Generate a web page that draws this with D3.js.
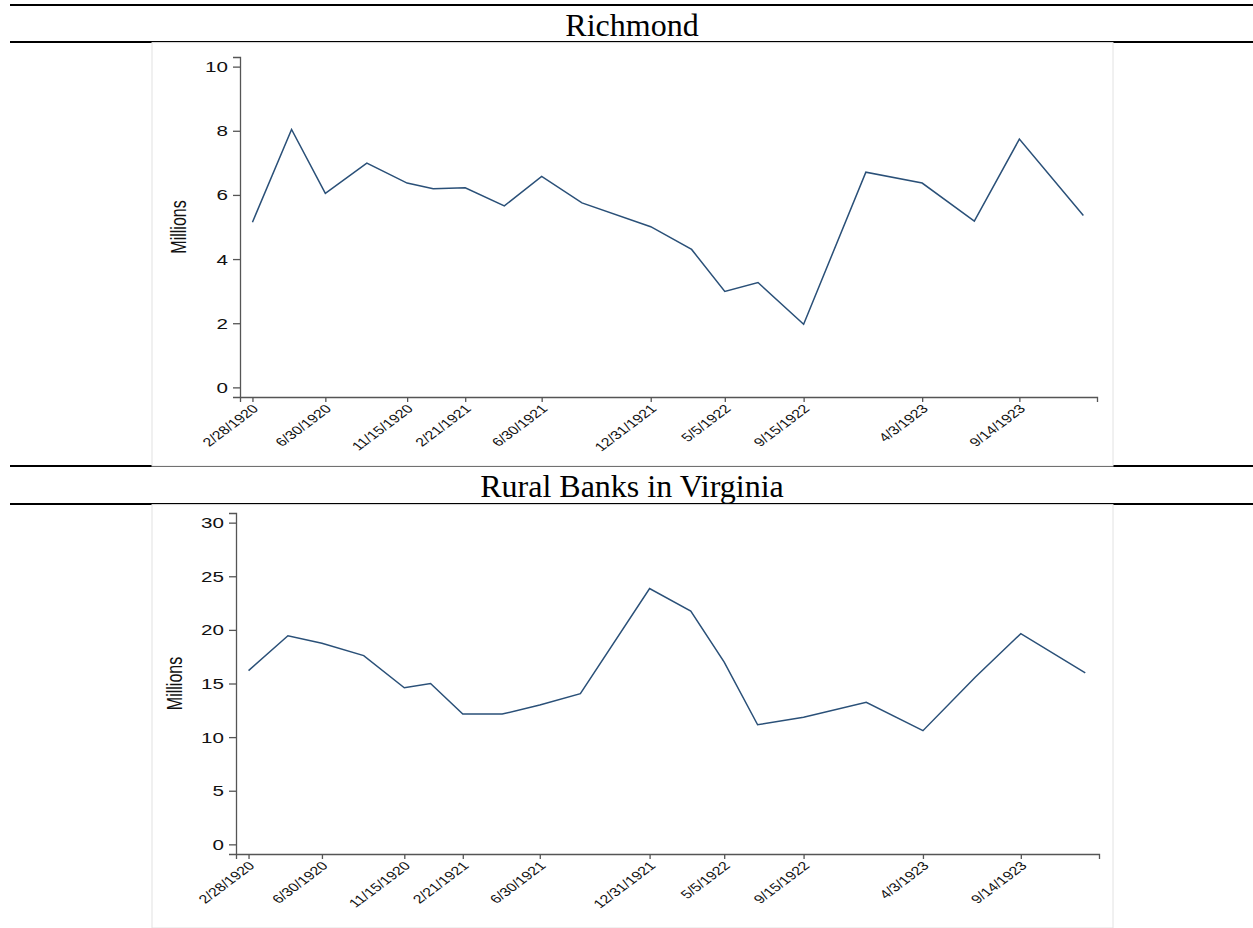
<!DOCTYPE html>
<html>
<head>
<meta charset="utf-8">
<script src="https://cdn.jsdelivr.net/npm/d3@7"></script>
<style>
  body { margin: 0; background: #fff; }
  svg { display: block; }
</style>
</head>
<body>
<div id="chart"></div>
<script>
(function(d3) {
    'use strict'

    // call report dates (both series share them)
    var callDates = ['2/28/1920', '5/4/1920', '6/30/1920', '9/8/1920', '11/15/1920', '12/29/1920',
        '2/21/1921', '4/28/1921', '6/30/1921', '9/6/1921', '12/31/1921',
        '3/10/1922', '5/5/1922', '6/30/1922', '9/15/1922', '12/29/1922',
        '4/3/1923', '6/30/1923', '9/14/1923', '12/31/1923'];

    // millions
    var richmond = [5.15, 8.04, 6.05, 6.99, 6.37, 6.19, 6.22, 5.66, 6.58, 5.75, 5.01,
        4.30, 2.99, 3.27, 1.97, 6.71, 6.37, 5.18, 7.74, 5.36];
    var ruralVirginia = [16.2, 19.45, 18.75, 17.6, 14.6, 15.0, 12.15, 12.15, 13.0, 14.05, 23.85,
        21.75, 17.0, 11.15, 11.85, 13.25, 10.6, 15.6, 19.65, 16.0];

    var xTickLabels = ['2/28/1920', '6/30/1920', '11/15/1920', '2/21/1921', '6/30/1921',
        '12/31/1921', '5/5/1922', '9/15/1922', '4/3/1923', '9/14/1923'];
    var richmondTicks = [0, 2, 4, 6, 8, 10];
    var ruralTicks = [0, 5, 10, 15, 20, 25, 30];

    var width = 1253;
    var height = 928;
    var sx = 1.33; // the graphs are stretched sideways in the source document
    var lineColor = '#2a5078';
    var axisColor = '#555';

    var parse = d3.timeParse('%m/%d/%Y');
    var fmt = d3.timeFormat('%-m/%-d/%Y');

    var svg = d3.select('#chart')
        .append('svg')
        .attr('width', width)
        .attr('height', height);

    // horizontal table rules
    [5, 42, 466, 504].forEach(function(y) {
        svg.append('line')
            .attr('x1', 10).attr('x2', width)
            .attr('y1', y).attr('y2', y)
            .attr('stroke', '#000')
            .attr('stroke-width', 2);
    });

    var panels = [
        { title: 'Richmond', titleY: 36, values: richmond, ticks: richmondTicks,
          yDomain: [-0.3, 10.3], frame: [152, 42.6, 1113, 466],
          xRange: [240, 1097], yRange: [397, 57], labelX: 179 },
        { title: 'Rural Banks in Virginia', titleY: 497, values: ruralVirginia, ticks: ruralTicks,
          yDomain: [-0.9, 30.9], frame: [152, 504.6, 1113, 928],
          xRange: [236, 1099], yRange: [854, 513], labelX: 175 }
    ];

    var xDomain = [new Date(1920, 1, 7), new Date(1924, 0, 23)];

    panels.forEach(function(p) {
        svg.append('text')
            .attr('x', 632)
            .attr('y', p.titleY)
            .attr('text-anchor', 'middle')
            .style('font-family', '"Liberation Serif", "Times New Roman", serif')
            .style('font-size', '32px')
            .text(p.title);

        // embedded graph image area
        svg.append('rect')
            .attr('x', p.frame[0])
            .attr('y', p.frame[1])
            .attr('width', p.frame[2] - p.frame[0])
            .attr('height', p.frame[3] - p.frame[1])
            .attr('fill', '#fff')
            .attr('stroke', '#e2e2e2')
            .attr('stroke-width', 1);

        var x = d3.scaleTime().domain(xDomain).range(p.xRange);
        var y = d3.scaleLinear().domain(p.yDomain).range(p.yRange);

        var g = svg.append('g');

        // y axis
        var yAxis = g.append('g')
            .attr('transform', 'translate(' + p.xRange[0] + ',0)')
            .call(d3.axisLeft(y).tickValues(p.ticks).tickSize(7).tickPadding(5).tickFormat(d3.format('d')));
        yAxis.selectAll('text')
            .attr('x', -12 / sx)
            .attr('transform', 'scale(' + sx + ',1)')
            .style('font-family', '"Liberation Sans", Arial, sans-serif')
            .style('font-size', '15.5px')
            .attr('fill', '#111');

        // x axis
        var xAxis = g.append('g')
            .attr('transform', 'translate(0,' + p.yRange[0] + ')')
            .call(d3.axisBottom(x).tickValues(xTickLabels.map(parse)).tickSize(5).tickFormat(fmt));
        xAxis.selectAll('text')
            .attr('x', 0)
            .attr('y', 0)
            .attr('dy', '0.3em')
            .attr('text-anchor', 'end')
            .attr('transform', 'translate(3,10) scale(' + sx + ',1) rotate(-45)')
            .style('font-family', '"Liberation Sans", Arial, sans-serif')
            .style('font-size', '12px')
            .attr('fill', '#111');

        g.selectAll('.domain, .tick line')
            .attr('stroke', axisColor)
            .attr('stroke-width', 1.3);

        // axis title
        var midY = (p.yRange[0] + p.yRange[1]) / 2;
        g.append('text')
            .attr('transform', 'translate(' + p.labelX + ',' + midY + ') scale(' + sx + ',1) rotate(-90)')
            .attr('text-anchor', 'middle')
            .attr('dy', '0.35em')
            .style('font-family', '"Liberation Sans", Arial, sans-serif')
            .style('font-size', '16px')
            .attr('fill', '#111')
            .text('Millions');

        var line = d3.line()
            .x(function(d, i) { return x(parse(callDates[i])); })
            .y(function(d) { return y(d); });

        g.append('path')
            .datum(p.values)
            .attr('d', line)
            .attr('fill', 'none')
            .attr('stroke', lineColor)
            .attr('stroke-width', 1.5)
            .attr('stroke-linejoin', 'miter');
    });

})(window.d3);
</script>
</body>
</html>
